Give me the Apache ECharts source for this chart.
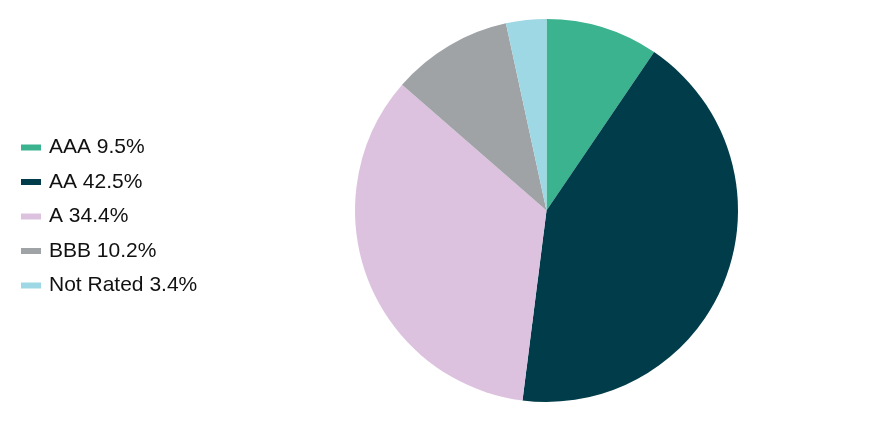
<!DOCTYPE html>
<html>
<head>
<meta charset="utf-8">
<script src="https://cdn.jsdelivr.net/npm/echarts@6/dist/echarts.min.js"></script>
<style>
  html, body { margin: 0; padding: 0; background: #fff; }
  #main { width: 888px; height: 432px; }
</style>
</head>
<body>
<div id="main"></div>
<script>
  // ratings breakdown
  var ratings = ['AAA', 'AA', 'A', 'BBB', 'Not Rated'];
  var shares = [9.5, 42.5, 34.4, 10.2, 3.4];
  var colors = ['#3bb38f', '#013c4a', '#dcc2df', '#9fa3a5', '#9ed8e4'];

  var myChart = echarts.init(document.getElementById('main'));

  var pieData = ratings.map(function (name, i) {
    return { name: name, value: shares[i], itemStyle: { color: colors[i] } };
  });

  var option = {
    animation: false,
    legend: {
      orient: 'vertical',
      left: 16,
      top: 132,
      itemWidth: 20,
      itemHeight: 6,
      itemGap: 13.5,
      icon: 'rect',
      textStyle: {
        fontFamily: 'Liberation Sans, Arial, sans-serif',
        fontSize: 21,
        lineHeight: 21,
        padding: [0, 0, 0, 3],
        color: '#111'
      },
      formatter: function (name) {
        var i = ratings.indexOf(name);
        return name + ' ' + shares[i].toFixed(1) + '%';
      },
      data: ratings
    },
    series: [{
      type: 'pie',
      center: [546.5, 210.5],
      radius: 191.5,
      startAngle: 90,
      clockwise: true,
      label: { show: false },
      labelLine: { show: false },
      itemStyle: { borderWidth: 0 },
      emphasis: { disabled: true },
      data: pieData
    }]
  };

  myChart.setOption(option);
</script>
</body>
</html>
